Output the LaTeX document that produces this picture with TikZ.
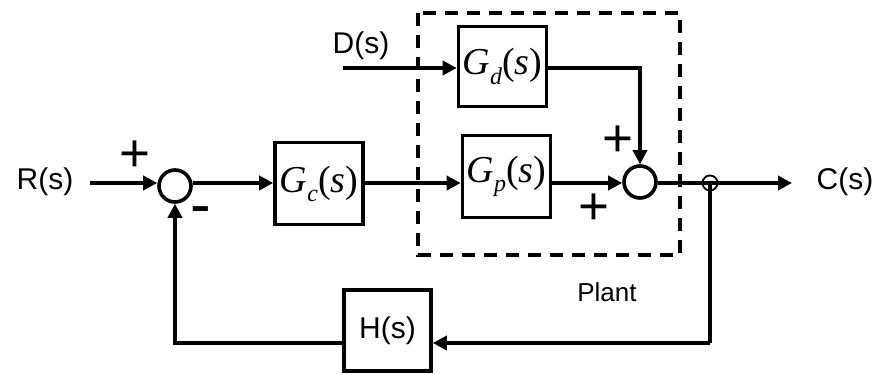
\documentclass[tikz,border=0pt]{standalone}
\usepackage{fontspec}
\setmainfont{Liberation Sans}
\newfontfamily\tms{Liberation Serif}
\usetikzlibrary{arrows.meta}
\tikzset{
  lw/.style={line width=3.6pt},
  arr/.style={lw,-{Triangle[length=14pt,width=14pt]}},
  plain/.style={lw},
  blockbox/.style={draw,lw,inner sep=0pt,minimum width=88pt,minimum height=82pt},
  sumc/.style={draw,lw,circle,inner sep=0pt,minimum size=32pt},
  tkc/.style={draw,line width=1.8pt,circle,inner sep=0pt,minimum size=15pt},
  lbl/.style={inner sep=0pt,font=\fontsize{30}{32}\selectfont},
  sgn/.style={inner sep=0pt,font=\fontsize{53}{53}\selectfont},
  plantbox/.style={lw,dash pattern=on 13pt off 9pt},
}
\newcommand{\Gsub}[1]{{\tms\fontsize{38}{40}\selectfont\itshape G\raisebox{-0.24em}{\fontsize{24}{24}\selectfont #1}\upshape(\itshape s\upshape)}}
\begin{document}
\begin{tikzpicture}[x=1pt,y=-1pt]
\useasboundingbox (0,0) rectangle (885,374);
% plant frame
\draw[plantbox] (418,13) rectangle (680,255);
% nodes
\node[sumc] (s1) at (175,186) {};
\node[blockbox] (Gc) at (319,183.5) {\Gsub{c}};
\node[blockbox] (Gp) at (506.5,176.5) {\Gsub{p}};
\node[blockbox,minimum height=80pt] (Gd) at (502.5,66.5) {\Gsub{d}};
\node[sumc] (s2) at (640,182) {};
\node[tkc] (tk) at (710,183) {};
\node[blockbox,minimum width=87pt,minimum height=81pt,font=\fontsize{30}{32}\selectfont] (H) at (387.5,330.5) {H(s)};
\coordinate (rin) at (90,183);
\coordinate (din) at (343,68);
\coordinate (cout) at (792,183);
\coordinate (fb) at (0,343);
% labels
\node[lbl] (R) at (45,182) {R(s)};
\node[lbl] (C) at (845,182) {C(s)};
\node[lbl] (D) at (361,46) {D(s)};
\node[inner sep=0pt,font=\fontsize{26}{28}\selectfont] (pl) at (607,292) {Plant};
\node[sgn] (p1) at (135,156) {+};
\node[sgn] (p2) at (618,141) {+};
\node[sgn] (p3) at (594,209) {+};
\node[inner sep=0pt,font=\fontsize{62}{62}\selectfont] (m1) at (201,216) {-};
% connectors
\draw[arr] (rin) -- (rin -| s1.west);
\draw[arr] (s1.east |- rin) -- (Gc.west |- rin);
\draw[arr] (Gc.east |- rin) -- (Gp.west |- rin);
\draw[arr] (Gp.east |- rin) -- (s2.west |- rin);
\draw[plain] (s2.east |- rin) -- (tk.center);
\draw[arr] (tk.center) -- (cout);
\draw[arr] (din) -- (Gd.west |- din);
\draw[arr] (Gd.east |- din) -| (s2.north);
\draw[plain] (tk.center) -- (tk.center |- fb);
\draw[arr] (tk.center |- fb) -- (H.east |- fb);
\draw[arr] (H.west |- fb) -| (s1.south);
\end{tikzpicture}
\end{document}
